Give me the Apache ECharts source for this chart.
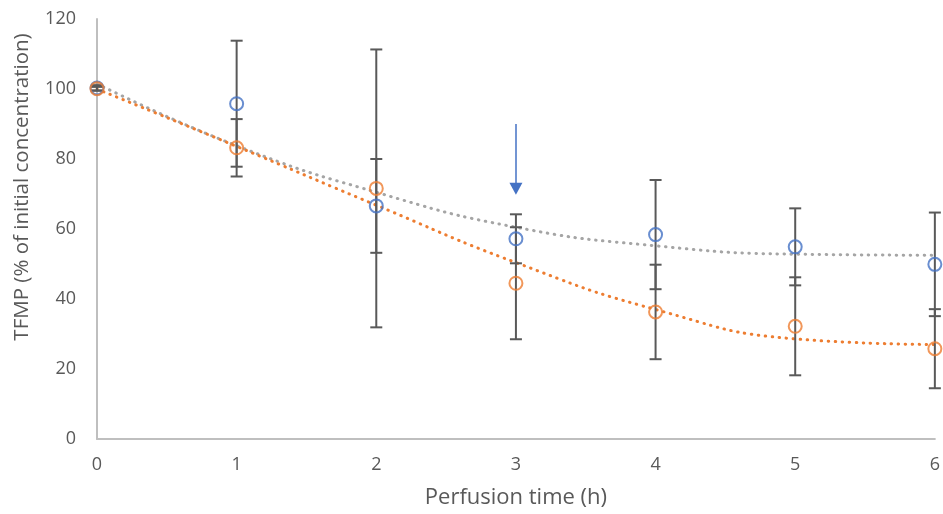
<!DOCTYPE html>
<html>
<head>
<meta charset="utf-8">
<script src="https://cdn.jsdelivr.net/npm/echarts@6/dist/echarts.min.js"></script>
<style>html,body{margin:0;padding:0;background:#fff}#c{width:943px;height:514px}</style>
</head>
<body>
<div id="c"></div>
<script>
// ---- data ----
const hours = [0, 1, 2, 3, 4, 5, 6];
const blueValues = [100.3, 95.8, 66.6, 57.2, 58.4, 54.9, 49.9];
const blueErrors = [0.8, 18.0, 13.4, 7.0, 15.6, 11.0, 14.8];
const orangeValues = [100.1, 83.2, 71.6, 44.5, 36.3, 32.2, 25.8];
const orangeErrors = [0.5, 8.2, 39.7, 16.0, 13.5, 14.0, 11.3];
const greyTrend = [101.5, 83.8, 70.5, 60.5, 55.2, 52.8, 52.5];
const orangeTrend = [100.0, 83.6, 66.8, 50.4, 37.0, 28.6, 27.0];
const arrowX = 3;
const arrowFrom = 90;
const arrowTo = 71.5;
const yTicks = [0, 20, 40, 60, 80, 100, 120];

const pairs = (xs, ys) => xs.map((x, i) => [x, ys[i]]);
const errRows = (xs, ys, es) => xs.map((x, i) => [x, ys[i] - es[i], ys[i] + es[i]]);

function errorBar(params, api) {
  const x = api.value(0), lo = api.value(1), hi = api.value(2);
  const a = api.coord([x, hi]), b = api.coord([x, lo]);
  const hw = 6;
  const st = { stroke: '#595959', lineWidth: 2 };
  return {
    type: 'group',
    children: [
      { type: 'line', shape: { x1: a[0], y1: a[1], x2: b[0], y2: b[1] }, style: st },
      { type: 'line', shape: { x1: a[0] - hw, y1: a[1], x2: a[0] + hw, y2: a[1] }, style: st },
      { type: 'line', shape: { x1: b[0] - hw, y1: b[1], x2: b[0] + hw, y2: b[1] }, style: st }
    ]
  };
}

const font = '"Open Sans", "DejaVu Sans", sans-serif';
const chart = echarts.init(document.getElementById('c'), null, { renderer: 'canvas' });
const dotted = (color) => ({ color, width: 3, type: [0.5, 6.5], cap: 'round' });

chart.setOption({
  animation: false,
  backgroundColor: '#ffffff',
  grid: { left: 97, right: 4, top: 19, bottom: 72.5, containLabel: false },
  xAxis: {
    type: 'value', min: 0, max: 6, interval: 1,
    name: 'Perfusion time (h)', nameLocation: 'middle', nameGap: 48,
    nameTextStyle: { color: '#595959', fontSize: 22, fontFamily: font },
    axisLine: { show: true, onZero: false, lineStyle: { color: '#BFBFBF', width: 2 } },
    axisTick: { show: false },
    splitLine: { show: false },
    axisLabel: { color: '#595959', fontSize: 18, fontFamily: font, margin: 17 }
  },
  yAxis: {
    type: 'value', min: yTicks[0], max: yTicks[yTicks.length - 1], interval: 20,
    axisLine: { show: true, lineStyle: { color: '#BFBFBF', width: 2 } },
    axisTick: { show: false },
    splitLine: { show: false },
    axisLabel: { color: '#595959', fontSize: 18, fontFamily: font, margin: 21 }
  },
  graphic: [{
    type: 'text', x: 22, y: 187, rotation: Math.PI / 2,
    style: {
      text: 'TFMP (% of initial concentration)', fill: '#595959',
      font: '20.5px ' + font, align: 'center', verticalAlign: 'middle'
    }
  }],
  series: [
    { type: 'line', data: pairs(hours, greyTrend), smooth: 0.5, showSymbol: false, symbol: 'none',
      lineStyle: dotted('#A5A5A5'), z: 2, silent: true },
    { type: 'line', data: pairs(hours, orangeTrend), smooth: 0.5, showSymbol: false, symbol: 'none',
      lineStyle: dotted('#ED7D31'), z: 3, silent: true },
    { type: 'custom', data: errRows(hours, blueValues, blueErrors), renderItem: errorBar,
      encode: { x: 0, y: [1, 2] }, z: 4, silent: true },
    { type: 'custom', data: errRows(hours, orangeValues, orangeErrors), renderItem: errorBar,
      encode: { x: 0, y: [1, 2] }, z: 4, silent: true },
    { type: 'scatter', data: pairs(hours, blueValues), symbol: 'circle', symbolSize: 13,
      itemStyle: { color: 'rgba(0,0,0,0)', borderColor: '#4472C4', borderWidth: 2 }, z: 5,
      markLine: {
        silent: true, symbol: ['none', 'triangle'], symbolSize: [13, 12],
        label: { show: false },
        lineStyle: { color: '#4472C4', width: 1.5, type: 'solid' },
        data: [[{ coord: [arrowX, arrowFrom] }, { coord: [arrowX, arrowTo] }]]
      } },
    { type: 'scatter', data: pairs(hours, orangeValues), symbol: 'circle', symbolSize: 13,
      itemStyle: { color: 'rgba(0,0,0,0)', borderColor: '#ED7D31', borderWidth: 2 }, z: 5 }
  ]
});
</script>
</body>
</html>
